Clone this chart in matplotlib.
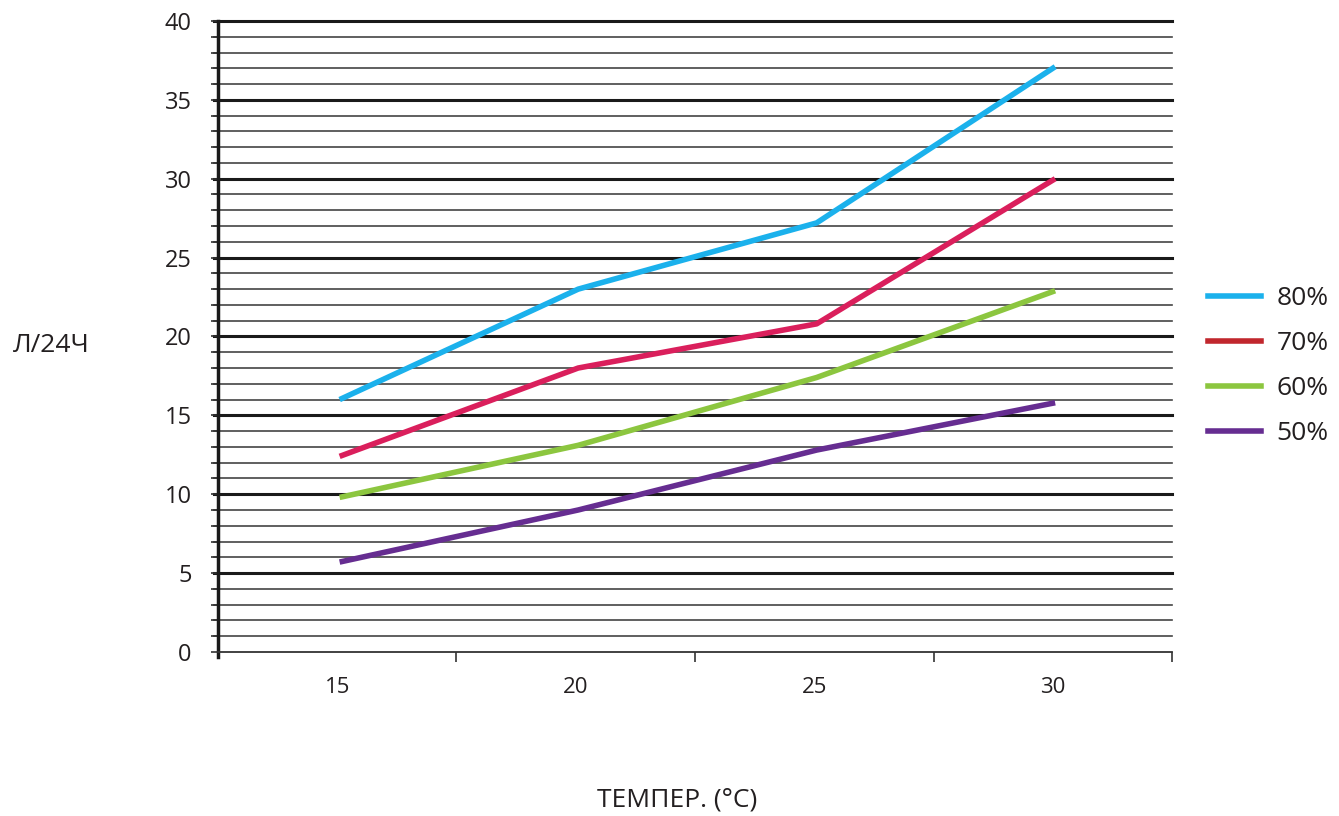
import numpy as np
import matplotlib
matplotlib.use('Agg')
import matplotlib.pyplot as plt

temps = ['15', '20', '25', '30']
labels = ['80%', '70%', '60%', '50%']
h80 = [16.0, 23.0, 27.2, 37.1]
h70 = [12.4, 18.0, 20.8, 30.0]
h60 = [9.8, 13.1, 17.4, 22.9]
h50 = [5.7, 9.0, 12.8, 15.8]
line_colors = ['#1bb1ec', '#da1f5c', '#8cc63f', '#662d91']
legend_colors = ['#1bb1ec', '#c1272d', '#8cc63f', '#662d91']

plt.rcParams['font.family'] = ['Open Sans', 'DejaVu Sans']

fig = plt.figure(figsize=(13.39, 8.16), dpi=100)
ax = fig.add_axes([0.1628, 0.201, 0.7125, 0.7733])

ax.set_xlim(0, 4)
ax.set_ylim(0, 40)

# grid lines: thick every 5, thin every 1
for v in range(1, 41):
    if v % 5 == 0:
        ax.axhline(v, color='#1a1a1a', lw=2.2, zorder=1, xmin=-0.004, clip_on=False)
    else:
        ax.axhline(v, color='#444444', lw=1.2, zorder=1, xmin=-0.004, clip_on=False)

xs = np.arange(len(temps)) + 0.51
for vals, c in zip([h80, h70, h60, h50], line_colors):
    ax.plot(xs, vals, color=c, lw=4, zorder=3, solid_capstyle='butt')

for side in ['top', 'right']:
    ax.spines[side].set_visible(False)
ax.spines['left'].set_linewidth(2.5)
ax.spines['left'].set_color('#1a1a1a')
ax.spines['left'].set_bounds(-0.3, 40)
ax.spines['bottom'].set_linewidth(1.3)
ax.spines['bottom'].set_color('#333333')

ax.set_yticks(range(0, 41, 5))
ax.set_yticks(range(0, 41), minor=True)
ax.tick_params(axis='y', which='both', length=5, width=1.2, color='#333333',
               labelsize=17, pad=14, labelcolor='#231f20')
ax.set_xticks([1, 2, 3, 4])
ax.set_xticklabels([])
ax.set_xticks(np.arange(len(temps)) + 0.5, minor=True)
ax.set_xticklabels(temps, minor=True)
ax.tick_params(axis='x', which='major', length=7, width=1.2, color='#333333', direction='out')
ax.tick_params(axis='x', which='minor', length=0, labelsize=16, pad=18, labelcolor='#231f20')

fig.text(0.038, 0.577, 'Л/24Ч', fontsize=19, color='#231f20', ha='center', va='center')
fig.text(0.5056, 0.0196, 'ТЕМПЕР. (°C)', fontsize=19, color='#231f20', ha='center', va='center')

handles = [plt.Line2D([], [], color=c, lw=4) for c in legend_colors]
fig.legend(handles, labels, loc='center left', bbox_to_anchor=(0.8845, 0.551),
           frameon=False, fontsize=19, handlelength=2.0, labelspacing=0.76,
           handletextpad=0.6, labelcolor='#231f20')

plt.savefig('out.png', dpi=100)
